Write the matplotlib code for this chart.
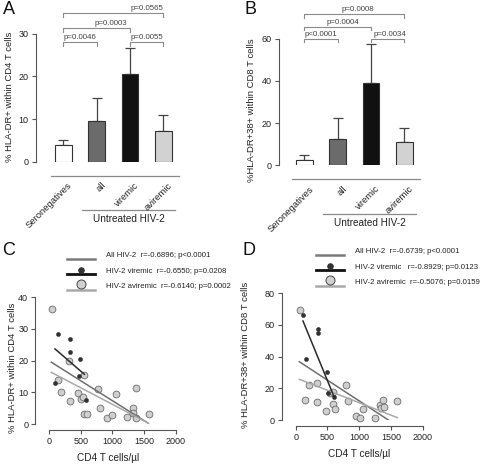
import matplotlib
matplotlib.use("Agg")
import matplotlib.pyplot as plt
from matplotlib.lines import Line2D
from matplotlib.legend_handler import HandlerBase

plt.rcParams['font.family'] = ['Liberation Sans', 'DejaVu Sans']

# ---- data ----
groups = ["Seronegatives", "all", "viremic", "aviremic"]
bar_colors = ["#ffffff", "#6b6b6b", "#111111", "#d2d2d2"]

cd4_mean = [4.0, 9.45, 20.5, 7.3]
cd4_err = [1.0, 5.55, 6.1, 3.6]
cd8_mean = [2.5, 12.3, 38.9, 11.2]
cd8_err = [2.2, 10.3, 18.8, 6.3]

# comparisons: (group i, group j, bracket height, text x, label)
cd4_tests = [(0, 1, 28.0, 0.50, "p=0.0046"), (0, 2, 31.3, 1.42, "p=0.0003"),
             (2, 3, 28.0, 2.51, "p=0.0055"), (0, 3, 34.8, 2.50, "p=0.0565")]
cd8_tests = [(0, 1, 60.0, 0.51, "p<0.0001"), (0, 2, 65.7, 1.17, "p=0.0004"),
             (2, 3, 60.0, 2.57, "p=0.0034"), (0, 3, 71.7, 1.61, "p=0.0008")]

# panel C: CD4 count vs % HLA-DR+ CD4
c_vir_x = [95, 147, 326, 337, 474, 495, 579]
c_vir_y = [12.8, 28.5, 22.8, 26.8, 15.0, 20.5, 7.6]
c_avir_x = [42, 137, 184, 316, 326, 453, 510, 530, 558, 558, 600, 769, 805, 921,
            995, 1058, 1237, 1326, 1326, 1374, 1379, 1579]
c_avir_y = [36.3, 13.8, 10.2, 19.9, 7.2, 9.7, 7.8, 8.5, 15.5, 3.2, 3.3, 11.1, 4.9, 1.9,
            2.7, 9.6, 2.2, 5.0, 3.4, 2.0, 11.4, 3.1]
c_fit_all = ([37, 1553], [19.5, 0.4])
c_fit_vir = ([95, 558], [23.7, 15.7])
c_fit_avir = ([37, 1574], [16.3, 0.2])
c_legend = ["All HIV-2  r=-0.6896; p<0.0001",
            "HIV-2 viremic  r=-0.6550; p=0.0208",
            "HIV-2 aviremic  r=-0.6140; p=0.0002"]

# panel D: CD4 count vs % HLA-DR+38+ CD8
d_vir_x = [115, 167, 346, 356, 488, 515, 608]
d_vir_y = [66.3, 38.7, 57.3, 54.8, 30.1, 17.0, 14.3]
d_avir_x = [63, 151, 209, 331, 340, 472, 540, 583, 583, 619, 787, 823, 950, 1013,
            1066, 1249, 1328, 1343, 1380, 1391, 1590]
d_avir_y = [69.5, 12.4, 22.1, 23.6, 11.2, 5.7, 16.8, 17.9, 9.9, 6.7, 21.9, 11.8, 2.5, 1.1,
            7.1, 1.5, 9.5, 7.8, 12.6, 8.4, 11.8]
d_fit_all = ([57, 1459], [36.8, 0.0])
d_fit_vir = ([115, 608], [62.5, 14.3])
d_fit_avir = ([57, 1600], [25.7, 1.5])
d_legend = ["All HIV-2  r=-0.6739; p<0.0001",
            "HIV-2 viremic   r=-0.8929; p=0.0123",
            "HIV-2 aviremic  r=-0.5076; p=0.0159"]

TXT = "#222222"
GRAY = "#8a8a8a"
W, H = 480, 469

fig = plt.figure(figsize=(W / 100, H / 100), dpi=100)


def add_axes_px(x0, x1, y_top, y_bot):
    return fig.add_axes([x0 / W, 1 - y_bot / H, (x1 - x0) / W, (y_bot - y_top) / H])


def bar_panel(ax, means, errs, tests, ymax, ystep, ylabel, per_px, label_xy):
    x = range(len(groups))
    ax.bar(x, means, width=0.5, color=bar_colors, edgecolor="#333333", linewidth=0.8, zorder=2)
    ax.errorbar(x, means, yerr=[[0] * len(errs), errs], fmt="none", ecolor="#444444",
                elinewidth=0.9, capsize=3.5, capthick=0.9, zorder=1)
    ax.set_ylim(0, ymax)
    ax.set_yticks(range(0, ymax + 1, ystep))
    for s in ["top", "right", "bottom"]:
        ax.spines[s].set_visible(False)
    ax.spines["left"].set_color("#555555")
    ax.spines["left"].set_linewidth(0.8)
    ax.set_xticks([])
    ax.tick_params(axis="y", labelsize=6.5, colors="#555555", labelcolor=TXT, length=3,
                   width=0.8, pad=2)
    ax.set_ylabel(ylabel, fontsize=6.8, color=TXT)
    ax.yaxis.set_label_coords(*label_xy)
    d = 0.028 * ymax
    for i, j, h, tx, lab in tests:
        ax.plot([i, i, j, j], [h - d, h, h, h - d], color=GRAY, lw=0.8, clip_on=False)
        ax.text(tx, h + 0.035 * ymax, lab, fontsize=5.7, color="#444444", ha="center",
                va="center", clip_on=False)
    # base line under the bars, group labels, bracket for the HIV-2 groups
    ax.plot([-0.37, 3.46], [-per_px * 14, -per_px * 14], color=GRAY, lw=0.9, clip_on=False)
    for k, g in enumerate(groups):
        ax.text(k + 0.13, -per_px * 19, g, rotation=45, rotation_mode="anchor", ha="right",
                va="top", fontsize=6.8, color=TXT, clip_on=False)
    ax.plot([0.55, 3.35], [-per_px * 48.5, -per_px * 48.5], color=GRAY, lw=0.9, clip_on=False)
    ax.text(1.96, -per_px * 57.5, "Untreated HIV-2", ha="center", va="center", fontsize=7.2,
            color=TXT, clip_on=False)


axA = add_axes_px(35.6, 183.3, 33.7, 161.7)
axA.set_xlim(-0.83, 3.6)
bar_panel(axA, cd4_mean, cd4_err, cd4_tests, 30, 10, "% HLA-DR+ within CD4 T cells",
          30 / 128, (-0.146, 0.505))

axB = add_axes_px(279, 424.3, 38.7, 165.3)
axB.set_xlim(-0.76, 3.6)
bar_panel(axB, cd8_mean, cd8_err, cd8_tests, 60, 20, "%HLA-DR+38+ within CD8 T cells",
          60 / 126.6, (-0.16, 0.437))


class BallOnLine(HandlerBase):
    def __init__(self, line_color, line_w, ball=None):
        super().__init__()
        self.line_color = line_color
        self.line_w = line_w
        self.ball = ball

    def create_artists(self, legend, orig_handle, xdescent, ydescent, width, height,
                       fontsize, trans):
        y0 = -ydescent + 0.05 * height
        arts = [Line2D([-xdescent, width - xdescent], [y0, y0], color=self.line_color,
                       lw=self.line_w, transform=trans)]
        if self.ball is not None:
            ms, fc, ec = self.ball
            arts.append(Line2D([-xdescent + width / 2], [y0 + ms / 2 + self.line_w / 2],
                               marker="o", ms=ms, mfc=fc, mec=ec, mew=0.7, ls="none",
                               transform=trans))
        return arts


def scatter_panel(ax, vx, vy, ax_, ay, fits, ymax, ystep, ylabel, legend_labels, leg_xy,
                  ylab_xy, xlab_xy):
    f_all, f_vir, f_avir = fits
    ax.plot(*f_all, color="#6e6e6e", lw=1.1, zorder=3)
    ax.plot(*f_avir, color="#a9a9a9", lw=1.1, zorder=3)
    ax.scatter(ax_, ay, s=24, facecolor="#cfcfcf", edgecolor="#6a6a6a", linewidth=0.6,
               zorder=2, clip_on=False)
    ax.scatter(vx, vy, s=9, facecolor="#303030", edgecolor="#303030", linewidth=0.3,
               zorder=4, clip_on=False)
    ax.plot(*f_vir, color="#2a2a2a", lw=1.1, zorder=5)
    ax.set_xlim(0, 2000)
    ax.set_ylim(0, ymax)
    ax.set_xticks(range(0, 2001, 500))
    ax.set_yticks(range(0, ymax + 1, ystep))
    for s in ["top", "right"]:
        ax.spines[s].set_visible(False)
    ax.spines["left"].set_position(("outward", 10))
    ax.spines["bottom"].set_position(("outward", 4))
    ax.spines["left"].set_bounds(0, ymax)
    ax.spines["bottom"].set_bounds(0, 2000)
    for s in ["left", "bottom"]:
        ax.spines[s].set_color("#555555")
        ax.spines[s].set_linewidth(0.8)
    ax.tick_params(labelsize=6.5, colors="#555555", labelcolor=TXT, length=3, width=0.8,
                   pad=2)
    ax.set_ylabel(ylabel, fontsize=6.8, color=TXT)
    ax.yaxis.set_label_coords(*ylab_xy)
    ax.set_xlabel("CD4 T cells/\u00b5l", fontsize=7.2, color=TXT)
    ax.xaxis.set_label_coords(*xlab_xy)
    handles = [Line2D([], []), Line2D([], []), Line2D([], [])]
    hmap = {handles[0]: BallOnLine("#7a7a7a", 1.8),
            handles[1]: BallOnLine("#111111", 2.0, (4.0, "#333333", "#333333")),
            handles[2]: BallOnLine("#a9a9a9", 1.8, (6.5, "#d0d0d0", "#444444"))}
    ax.legend(handles, legend_labels, handler_map=hmap, loc="upper left",
              bbox_to_anchor=leg_xy, frameon=False, fontsize=5.6, borderpad=0,
              borderaxespad=0, handlelength=3.6, handleheight=1.4, handletextpad=1.4,
              labelspacing=0.8, labelcolor=TXT)


axC = add_axes_px(49, 175.7, 297.3, 424)
scatter_panel(axC, c_vir_x, c_vir_y, c_avir_x, c_avir_y, (c_fit_all, c_fit_vir, c_fit_avir),
              40, 10, "% HLA-DR+ within CD4 T cells", c_legend, (0.14, 1.37),
              (-0.25, 0.446), (0.468, -0.23))

axD = add_axes_px(295.7, 422.7, 293.3, 420)
scatter_panel(axD, d_vir_x, d_vir_y, d_avir_x, d_avir_y, (d_fit_all, d_fit_vir, d_fit_avir),
              80, 20, "% HLA-DR+38+ within CD8 T cells", d_legend, (0.16, 1.37),
              (-0.36, 0.513), (0.50, -0.23))

for lab, x, y in [("A", 3, 1), ("B", 244, 1), ("C", 2, 242), ("D", 243, 242)]:
    fig.text(x / W, 1 - y / H, lab, fontsize=13, color="#111111", ha="left", va="top")

fig.savefig("out.png", dpi=100)
